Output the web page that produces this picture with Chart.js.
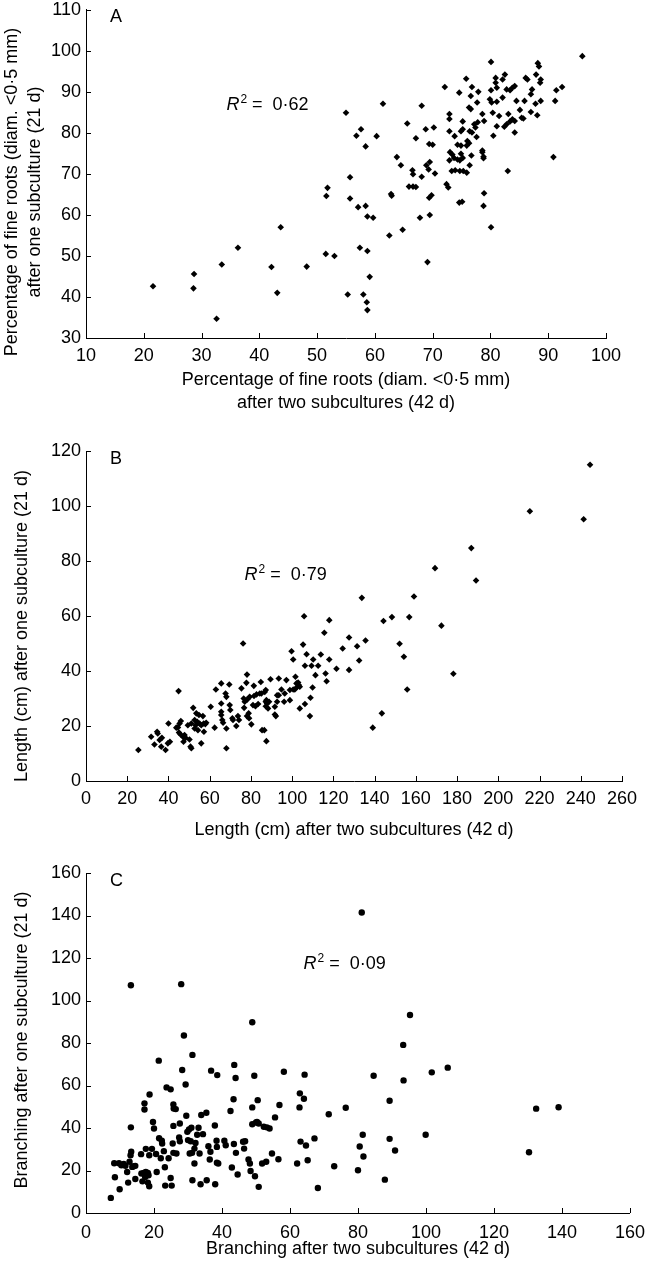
<!DOCTYPE html>
<html><head><meta charset="utf-8">
<script src="https://cdn.jsdelivr.net/npm/chart.js@4"></script>
<style>
html,body{margin:0;padding:0;background:#fff;width:654px;height:1280px;overflow:hidden;position:relative}
canvas{position:absolute;left:0}
</style></head><body>
<canvas id="ca" width="654" height="421" style="top:-6px;width:654px;height:421px"></canvas>
<canvas id="cb" width="654" height="416" style="top:430px;width:654px;height:416px"></canvas>
<canvas id="cc" width="654" height="430" style="top:850px;width:654px;height:430px"></canvas>
<script>
// ---------- Panel A: fine roots percentage ----------
const aX = [21.6,28.7,28.6,32.6,33.5,36.3,42.1,43.1,43.7,48.2,51.5,53.0,51.6,51.8,55.0,55.3,55.7,55.7,56.8,57.1,57.4,
95.9,80.1,88.2,88.4,82.5,80.9,82.1,75.8,86.1,86.4,87.9,88.7,88.6,72.1,76.8,77.9,74.6,76.6,80.1,80.9,81.1,82.8,83.4,83.8,84.2,82.1,87.2,87.0,91.4,92.4,87.8,88.7,91.2,79.9,80.2,81.1,84.5,85.9,76.3,76.6,77.7,61.4,68.1,78.6,80.4,81.5,83.1,85.1,87.0,88.1,72.9,72.9,75.2,75.2,74.9,77.2,77.4,77.8,78.9,83.8,84.2,83.4,85.4,85.7,82.8,82.4,81.1,65.6,68.8,70.2,72.9,73.8,76.4,76.8,77.6,76.0,76.3,80.5,84.2,57.6,60.3,58.4,67.1,69.4,70.0,74.3,74.9,75.9,78.6,78.6,73.0,73.4,73.7,74.9,75.2,74.7,74.3,72.9,63.8,64.5,76.7,76.4,78.8,78.8,90.9,83.0,73.3,73.9,74.7,75.3,75.9,68.9,69.5,69.3,70.4,66.5,66.6,68.1,65.9,66.6,67.1,72.4,72.7,62.8,62.9,69.4,69.8,78.9,74.6,75.1,78.8,58.4,58.7,59.7,67.8,69.5,62.5,64.8,80.1,58.7,69.1,59.1,58.0,58.6,58.7];
const aY = [42.6,45.6,42.1,34.7,47.9,52.0,47.3,41.0,57.0,47.4,50.5,50.0,64.6,66.6,84.9,40.6,69.2,64.0,79.3,61.9,52.0,
98.7,97.3,97.0,96.2,94.2,93.4,93.0,93.2,93.4,93.0,94.2,93.0,92.2,91.2,91.2,90.0,89.8,89.0,90.4,92.2,91.0,90.6,90.4,91.0,91.4,88.6,90.6,89.4,90.4,91.2,87.1,87.8,87.8,88.2,87.4,87.6,87.8,87.8,86.2,85.8,87.4,87.1,86.6,84.6,84.9,84.1,84.6,85.6,85.1,84.3,84.6,83.4,82.8,80.9,80.4,82.1,81.3,82.6,82.9,83.3,82.9,82.8,83.7,83.5,82.1,81.5,81.6,82.3,80.9,81.3,80.4,79.2,80.4,80.1,79.0,78.0,77.5,79.3,80.1,80.9,79.2,76.7,78.7,77.3,77.1,77.1,76.9,76.9,75.7,75.3,75.3,74.7,73.9,74.9,73.9,73.3,73.5,73.3,74.1,72.1,74.5,72.1,74.2,73.8,74.1,70.7,70.7,70.9,70.7,70.7,70.3,72.1,72.9,71.1,70.1,70.9,69.9,69.3,66.9,66.9,66.8,67.5,66.7,65.1,64.7,64.2,64.8,65.3,63.0,63.2,62.2,62.2,59.6,59.3,59.3,60.0,55.0,56.4,57.0,51.2,48.5,44.9,40.6,38.7,36.8];

// ---------- Panel B: length ----------
const bX = [25.4,31.6,34.5,34.8,33.2,35.7,36.8,36.5,38.6,39.7,40.7,40.0,43.8,44.6,44.9,46.0,45.4,45.1,45.9,47.0,47.3,48.3,47.8,49.4,50.2,50.7,51.1,51.1,52.0,52.7,52.7,53.2,54.0,54.3,53.5,54.8,55.1,55.9,55.9,56.7,57.1,57.2,57.9,58.3,60.5,62.4,63.0,65.6,65.6,65.6,66.1,66.5,65.6,67.7,68.1,68.1,68.1,69.5,69.7,70.0,71.0,71.3,72.9,73.7,74.2,75.4,76.2,76.5,77.0,76.7,78.1,78.1,77.8,78.3,78.9,79.1,79.4,80.2,81.0,82.2,81.4,81.5,82.7,83.5,84.3,85.1,84.8,85.4,86.5,86.7,87.2,87.5,87.2,87.8,87.2,87.5,88.3,88.8,89.5,91.6,91.6,92.1,92.7,93.5,92.7,93.5,94.8,96.4,96.1,97.2,98.9,98.9,99.7,100.5,100.5,101.3,101.6,102.1,102.6,103.2,103.7,102.9,103.7,105.3,105.8,106.2,106.2,107.0,108.6,109.4,108.9,109.9,110.2,111.3,112.6,113.9,115.6,116.2,116.7,118.0,118.0,121.5,124.5,127.6,127.6,131.5,132.5,135.6,133.8,139.1,143.5,144.3,148.4,152.1,154.2,155.8,156.8,159.1,169.3,172.4,178.2,186.9,189.2,215.3,241.4,244.5];
const bY = [11.3,16.1,17.9,17.3,13.3,14.9,15.7,12.5,11.3,13.7,14.3,20.9,19.4,19.5,32.7,21.8,20.9,17.6,16.9,16.1,14.3,15.7,16.7,20.3,15.1,12.5,11.9,20.9,26.6,22.2,19.1,20.3,21.5,18.5,24.6,24.0,20.9,20.3,13.7,23.6,20.9,17.9,20.7,21.2,27.0,19.4,33.3,28.2,25.2,24.0,22.2,21.2,35.5,31.8,30.6,19.1,11.9,35.1,27.6,25.8,22.8,22.2,20.0,23.6,22.2,33.7,50.0,30.0,28.8,26.6,23.6,38.7,35.7,29.7,24.6,22.8,30.6,20.6,27.6,27.2,34.6,30.9,31.5,28.0,31.8,31.8,36.0,18.5,18.5,32.4,33.1,29.4,28.8,28.2,27.2,14.5,26.4,28.8,37.0,27.0,24.2,23.6,31.2,31.2,28.8,37.3,33.3,31.8,28.8,36.7,33.1,29.4,47.2,44.2,33.3,33.3,37.9,35.5,34.3,34.9,34.3,35.8,26.4,49.6,59.9,41.9,28.0,46.1,23.6,41.9,30.3,34.0,44.2,38.5,41.9,46.0,53.9,39.1,36.3,58.5,44.2,40.8,48.2,52.2,40.4,49.0,43.8,51.1,66.6,19.4,24.6,58.2,59.6,49.9,45.2,33.3,59.6,67.1,77.4,56.5,39.0,84.7,72.9,98.1,95.2,115.0];

// ---------- Panel C: branching ----------
const cX = [7.3,8.3,9.9,8.5,9.7,10.4,11.1,11.6,12.1,12.4,12.8,13.2,13.2,13.3,13.1,13.6,14.0,14.5,14.5,16.2,16.6,16.3,17.0,17.6,18.2,18.4,17.4,17.2,17.2,17.6,18.2,18.6,18.7,18.6,19.4,19.7,20.0,20.6,20.8,21.4,21.5,22.0,22.3,22.4,22.9,23.2,23.3,23.7,24.9,24.3,25.2,24.9,25.7,25.5,25.7,25.8,26.4,25.7,26.6,27.6,27.4,27.6,28.0,28.3,28.8,29.3,29.5,29.8,30.0,30.8,30.3,31.0,31.3,30.5,31.2,31.3,31.9,31.9,32.2,32.7,33.1,33.4,33.9,34.4,35.4,33.7,35.5,36.8,36.0,36.6,36.4,37.9,38.0,38.4,38.5,38.6,38.5,38.9,40.7,41.1,42.5,42.9,43.6,43.4,43.5,44.0,44.1,44.6,46.2,46.8,46.5,47.8,48.2,48.4,48.9,48.9,48.9,49.5,49.7,50.0,50.8,50.3,50.5,50.8,51.8,53.0,52.3,53.2,54.0,54.7,55.6,56.6,56.9,58.2,62.1,62.8,62.9,63.1,64.1,64.3,64.7,65.2,67.2,68.2,71.4,73.0,76.4,80.0,80.5,81.1,81.4,81.6,84.6,87.9,89.3,89.3,90.9,93.3,93.4,95.3,99.9,101.7,106.4,130.3,132.4,139.0];
const cY = [7.1,23.4,11.2,16.8,23.4,22.5,23.1,22.2,19.3,14.3,24.1,107.2,40.3,28.8,27.2,21.7,22.0,22.2,16.0,27.7,14.9,18.6,18.9,19.3,18.9,17.8,17.0,51.6,48.7,30.2,14.3,12.6,55.8,27.2,30.2,42.8,39.8,27.8,19.3,71.7,35.2,25.8,34.0,32.7,29.1,21.5,12.9,59.1,58.2,25.8,12.9,16.5,51.1,32.7,41.0,49.2,48.9,28.3,28.0,42.1,35.5,33.8,107.7,67.3,83.5,60.5,45.8,38.2,34.3,33.8,39.3,40.1,74.4,28.0,28.3,15.4,23.3,30.3,33.0,36.8,40.1,28.0,46.1,37.1,47.2,13.5,15.4,67.0,31.4,28.8,25.2,41.2,13.5,34.0,31.1,64.9,23.7,23.3,34.0,31.9,48.0,21.4,69.7,53.5,32.5,63.5,28.3,18.1,33.5,33.8,30.3,25.2,23.3,19.8,89.8,49.7,41.8,64.6,17.3,42.6,42.1,42.9,53.1,12.3,23.3,24.1,40.6,40.3,39.8,28.0,45.0,25.3,50.8,66.5,23.3,49.7,56.3,33.6,53.8,65.1,31.8,24.8,35.1,11.8,46.5,22.0,49.5,20.1,31.3,141.4,36.8,26.6,64.6,15.7,52.8,34.9,29.4,79.1,62.4,93.2,36.8,66.2,68.4,28.6,49.1,49.8];

const FONT = '"Liberation Sans", Arial, Helvetica, sans-serif';

const decor = {
  id: 'decor',
  afterDraw(chart, args, o) {
    const ctx = chart.ctx, xS = chart.scales.x, yS = chart.scales.y, ca = chart.chartArea;
    ctx.save();
    ctx.strokeStyle = '#000'; ctx.lineWidth = 1;
    ctx.beginPath();
    xS.ticks.forEach(t => { const px = Math.round(xS.getPixelForValue(t.value)) + 0.5; ctx.moveTo(px, ca.bottom); ctx.lineTo(px, ca.bottom - 5); });
    yS.ticks.forEach(t => { const py = Math.round(yS.getPixelForValue(t.value)) + 0.5; ctx.moveTo(ca.left, py); ctx.lineTo(ca.left + 5, py); });
    ctx.stroke();
    ctx.fillStyle = '#000';
    ctx.textAlign = 'left'; ctx.textBaseline = 'alphabetic';
    ctx.font = '18px ' + FONT;
    ctx.fillText(o.letter, ca.left + 24, ca.top + 12.5);
    let rx = xS.getPixelForValue(o.r2x), ry = yS.getPixelForValue(o.r2y);
    ctx.font = 'italic 18px ' + FONT;
    ctx.fillText('R', rx, ry); rx += ctx.measureText('R').width + 1;
    ctx.font = '12px ' + FONT;
    ctx.fillText('2', rx, ry - 7); rx += ctx.measureText('2').width;
    ctx.font = '18px ' + FONT;
    ctx.fillText(' =  ' + o.r2, rx, ry);
    ctx.textAlign = 'center'; ctx.textBaseline = 'middle';
    o.ytitle.forEach((line, i) => {
      ctx.save(); ctx.translate(o.ytx[i], o.ytcy); ctx.rotate(-Math.PI / 2);
      ctx.fillText(line, 0, 0); ctx.restore();
    });
    ctx.restore();
  }
};

function panel(id, xs, ys, cfg) {
  const pts = xs.map((x, i) => ({x: x, y: ys[i]}));
  new Chart(document.getElementById(id), {
    type: 'scatter',
    data: { datasets: [{ data: pts, backgroundColor: '#000', borderWidth: 0,
      pointStyle: cfg.style, pointRadius: cfg.r, pointHoverRadius: cfg.r }] },
    options: {
      responsive: false, animation: false, events: [],
      layout: { padding: { left: 0, top: cfg.pt, right: cfg.pr, bottom: 0 } },
      plugins: { legend: { display: false }, tooltip: { enabled: false }, decor: cfg.decor },
      scales: {
        x: { type: 'linear', min: cfg.xmin, max: cfg.xmax,
          ticks: { stepSize: cfg.xstep, color: '#000', font: { family: FONT, size: 18 }, padding: cfg.xlp, maxRotation: 0, autoSkip: false },
          grid: { display: false, drawTicks: false },
          border: { display: true, color: '#000', width: 1 },
          title: { display: true, text: cfg.xtitle, color: '#000', font: { family: FONT, size: 18, lineHeight: 1.3 }, padding: { top: 0, bottom: cfg.tpb } },
          afterFit(s) { s.height = cfg.xh; } },
        y: { type: 'linear', min: cfg.ymin, max: cfg.ymax,
          ticks: { stepSize: cfg.ystep, color: '#000', font: { family: FONT, size: 18 }, padding: 5 },
          grid: { display: false, drawTicks: false },
          border: { display: true, color: '#000', width: 1 },
          afterFit(s) { s.width = 86; } }
      }
    },
    plugins: [decor]
  });
}

panel('ca', aX, aY, { style: 'rectRot', r: 3.3, pt: 13, pr: 48, xh: 77, tpb: 0, xlp: 7,
  xmin: 10, xmax: 100, xstep: 10, ymin: 30, ymax: 110, ystep: 10,
  xtitle: ['Percentage of fine roots (diam. <0·5 mm)', 'after two subcultures (42 d)'],
  decor: { letter: 'A', r2x: 34.3, r2y: 85.6, r2: '0·62',
    ytitle: ['Percentage of fine roots (diam. <0·5 mm)', 'after one subculture (21 d)'], ytx: [12, 35], ytcy: 198 } });

panel('cb', bX, bY, { style: 'rectRot', r: 3.3, pt: 21, pr: 32, xh: 65, tpb: 4, xlp: 7,
  xmin: 0, xmax: 260, xstep: 20, ymin: 0, ymax: 120, ystep: 20,
  xtitle: 'Length (cm) after two subcultures (42 d)',
  decor: { letter: 'B', r2x: 76.9, r2y: 73.0, r2: '0·79',
    ytitle: ['Length (cm) after one subculture (21 d)'], ytx: [22], ytcy: 196 } });

panel('cc', cX, cY, { style: 'circle', r: 3.2, pt: 23, pr: 16, xh: 67, tpb: 19, xlp: 9,
  xmin: 0, xmax: 160, xstep: 20, ymin: 0, ymax: 160, ystep: 20,
  xtitle: 'Branching after two subcultures (42 d)',
  decor: { letter: 'C', r2x: 64.0, r2y: 115.0, r2: '0·09',
    ytitle: ['Branching after one subculture (21 d)'], ytx: [22], ytcy: 190 } });
</script>
</body></html>
